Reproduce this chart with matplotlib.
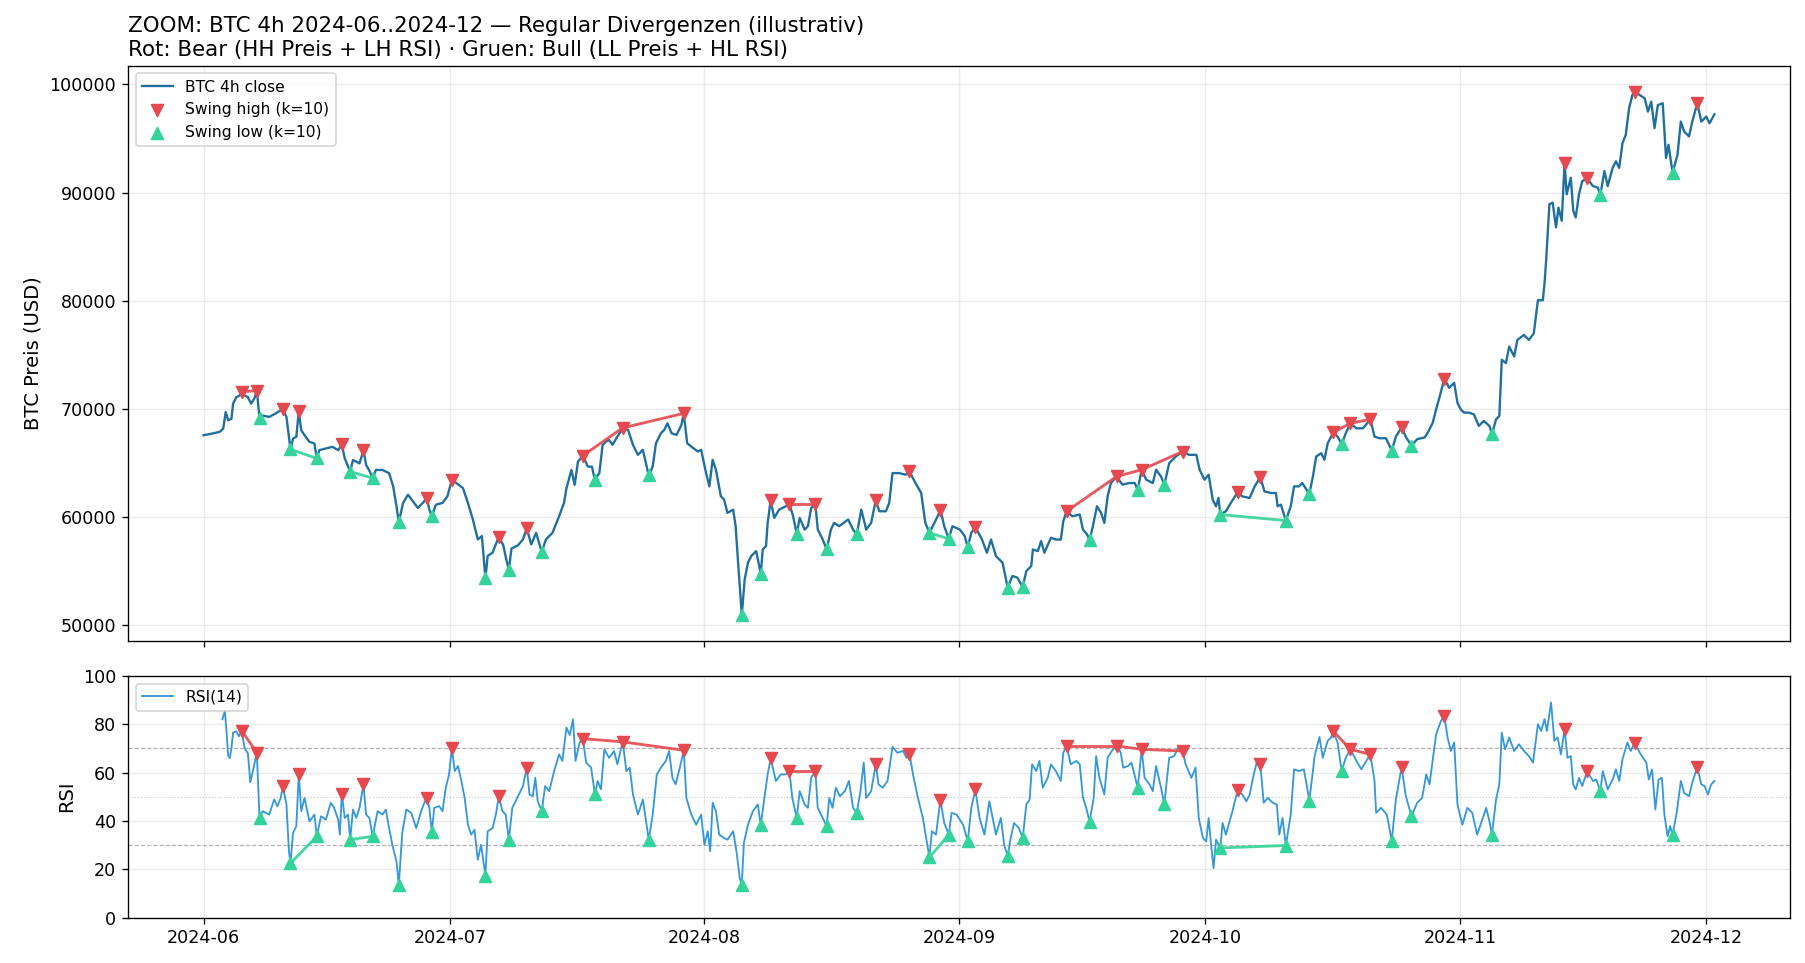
import numpy as np
import pandas as pd
import matplotlib
matplotlib.use("Agg")
import matplotlib.pyplot as plt
import matplotlib.dates as mdates

START = pd.Timestamp("2024-06-01")

# BTC 4h close (days since 2024-06-01, USD)
price_day = [0, 1.1, 2, 2.4, 2.7, 3, 3.4, 3.6, 4, 4.4, 5, 5.4, 5.8, 6.2, 7.2, 8, 8.8, 10.1, 10.9, 11.3,
             11.9, 12.3, 12.9, 13.5, 14.1, 14.9, 15.7, 16.4, 17.2, 18.2, 19, 19.8, 20.2, 21, 21.8, 22.6,
             23.1, 23.5, 24.3, 24.9, 25.5, 26.1, 26.7, 27.5, 28.3, 29.1, 29.7, 30.8, 31.6, 32.2, 32.8,
             33.4, 33.9, 34.6, 35.2, 36.5, 36.9, 37.5, 38.3, 38.9, 39.9, 40.5, 41.7, 42.5, 43.3, 43.9,
             44.2, 44.8, 45.2, 45.6, 46.8, 47.3, 48.2, 48.6, 49, 49.4, 49.8, 50.4, 51.7, 52.3, 52.9, 53.5,
             54.7, 55.1, 55.7, 56.1, 56.5, 57, 57.6, 58.2, 58.9, 59.4, 60.2, 60.6, 61.2, 61.6, 62, 62.4,
             63, 63.4, 63.8, 64.5, 64.8, 65.1, 65.9, 66.3, 66.7, 67.3, 68.1, 68.5, 68.7, 69.5, 70.1, 70.9,
             71.8, 72.6, 73.2, 73.6, 74, 74.8, 75.4, 76.4, 76.8, 77.4, 78.5, 79.1, 80.1, 80.7, 81.3, 82.3,
             83.1, 83.5, 83.9, 84.7, 85.5, 86.7, 87.4, 87.9, 88.8, 89.4, 90.2, 91.2, 92.1, 92.7, 93.5,
             94.8, 95.4, 95.9, 96.5, 97.3, 98.5, 99.1, 100.2, 100.8, 101, 101.6, 102, 102.4, 103.2, 103.8,
             104.4, 104.7, 105.8, 106.7, 107.1, 107.6, 108.3, 108.8, 109.3, 109.7, 110.1, 110.5, 111.9,
             112.7, 113.4, 114.8, 115.6, 116, 116.6, 117.6, 118.4, 120, 120.9, 121.3, 121.9, 122.4, 122.9,
             123.3, 123.6, 124.5, 125.1, 126.5, 127.4, 128, 129.2, 130, 130.6, 130.8, 131.2, 132.4, 132.8,
             133.4, 133.8, 135.1, 135.5, 136.1, 136.5, 136.9, 138.1, 139.1, 140.4, 141.2, 142.6, 143.2,
             144, 145.2, 146.4, 147.8, 148.7, 149.1, 149.7, 150.1, 150.5, 151.7, 152.3, 152.7, 153.1,
             153.5, 154.1, 154.7, 155.3, 155.9, 156.6, 157.4, 157.8, 158.1, 158.6, 159, 159.6, 160, 160.8,
             161.4, 162, 162.5, 163.1, 163.3, 163.5, 163.9, 164.3, 164.7, 165, 165.4, 166, 166.5, 166.8,
             167.1, 167.5, 167.9, 169.2, 169.8, 170.6, 171, 171.6, 172, 172.4, 172.8, 173.2, 173.6, 174,
             174.9, 175.5, 175.9, 176.3, 176.7, 177.1, 177.7, 178.1, 178.4, 179.5, 179.9, 180.3, 180.9,
             181.3, 182.4, 183, 183.4, 184]
price_usd = [67580, 67740, 67900, 68200, 69720, 68960, 69100, 70500, 71100, 71250, 71250, 71100, 70500,
             71000, 69400, 69270, 69600, 69270, 67280, 67430, 68040, 67580, 66970, 66820, 66200, 66360,
             66510, 66200, 65440, 65290, 64980, 64830, 64300, 64370, 64370, 64070, 62840, 61010, 61320,
             62080, 61470, 60860, 61320, 60700, 61160, 61320, 61930, 63150, 62690, 61320, 59790, 57950,
             58260, 56420, 56730, 57410, 56000, 57100, 57410, 57950, 57490, 58560, 57950, 58560, 60090,
             61320, 62690, 64370, 63000, 65140, 64680, 64680, 64070, 66670, 67000, 67130, 66690, 67450,
             68070, 66690, 65770, 66230, 64690, 66840, 67760, 68070, 68680, 67760, 67610, 68530, 66840,
             66530, 66070, 66230, 64080, 62850, 65310, 64390, 61930, 61630, 60400, 60700, 59170, 55800,
             54260, 55800, 56410, 56870, 57020, 57330, 59480, 59940, 60710, 61010, 60090, 59940, 58860,
             59170, 60860, 58860, 57940, 58860, 59480, 59170, 59790, 58860, 60710, 58860, 59480, 60550,
             60550, 61320, 64080, 64080, 63930, 63160, 62240, 59480, 59170, 60090, 59170, 59170, 58860,
             58250, 58560, 57940, 56720, 57940, 56410, 55800, 54570, 54420, 55030, 55490, 57020, 56870,
             57790, 56720, 58100, 57940, 57940, 59630, 60090, 60250, 58860, 58410, 59170, 61010, 60400,
             59480, 61930, 63160, 63010, 63160, 63160, 63470, 63160, 64390, 63770, 65000, 65610, 65770,
             65770, 64390, 63470, 63930, 61630, 61010, 61780, 60550, 61320, 61930, 61780, 62850, 62390,
             62240, 62240, 61010, 61170, 61010, 62850, 62850, 63160, 63770, 65610, 65920, 65310, 66840,
             67450, 67760, 68220, 68220, 67450, 67300, 67300, 67450, 67450, 67220, 67370, 67830, 68750,
             69970, 71040, 71960, 72420, 70580, 69970, 69670, 69670, 69510, 68440, 68900, 68440, 69050,
             69360, 74560, 74250, 75780, 74860, 76390, 76850, 76390, 77000, 80060, 80060, 81590, 83730,
             88930, 89080, 86790, 88620, 87400, 89850, 91380, 88320, 87710, 89850, 91070, 90610, 90460,
             92000, 90610, 92290, 92900, 92290, 94590, 95350, 97800, 99020, 99020, 98720, 97490, 98410,
             95960, 98100, 98260, 93210, 94430, 93520, 96570, 95660, 95200, 96570, 96570, 97030, 96420,
             97250]

# RSI(14) on the 4h closes
rsi_day = [2.3, 2.6, 2.8, 3, 3.2, 3.4, 3.6, 4, 4.3, 5, 5.4, 5.7, 6.1, 7.2, 8, 8.6, 9, 9.4, 10.1, 10.4,
           10.9, 11.3, 11.9, 12.3, 12.9, 13.5, 14.3, 14.9, 15.5, 15.9, 16.4, 16.6, 17.2, 17.6, 18.2, 18.6,
           19, 19.8, 20.2, 21.2, 21.8, 22.2, 22.6, 23, 23.5, 24.2, 24.7, 25.3, 25.9, 26.5, 26.9, 27.5,
           28.1, 28.7, 29.1, 29.5, 29.9, 30.6, 31, 31.4, 31.8, 32.2, 32.6, 33, 33.4, 33.8, 34.6, 35.2,
           35.6, 36.4, 36.8, 37.6, 38.1, 38.9, 39.7, 40.1, 40.4, 40.7, 41.6, 42.1, 42.7, 43.3, 43.7, 44.2,
           44.6, 45, 45.3, 45.8, 46.6, 47.2, 48, 48.4, 48.8, 49.4, 50, 50.4, 51.5, 51.9, 52.3, 52.9, 53.5,
           54.7, 55.2, 55.7, 56.3, 56.7, 57.1, 57.5, 58, 58.8, 59.4, 60, 60.6, 61, 61.4, 61.7, 62, 62.4,
           62.8, 63.4, 63.8, 64.5, 64.9, 65.3, 65.8, 66.3, 66.9, 67.5, 68.3, 68.7, 69.7, 70.3, 70.9, 71.7,
           72.6, 73.2, 73.6, 74, 74.8, 75.4, 76.2, 76.6, 77, 77.5, 78.1, 78.6, 79.1, 80, 80.4, 80.7, 81.3,
           82.2, 82.7, 83.3, 83.9, 84.5, 85.2, 85.6, 86.4, 87, 87.6, 88, 88.7, 89.2, 90.2, 91.1, 91.7,
           92.5, 93.5, 94.5, 95.1, 95.7, 96.1, 96.5, 97.1, 97.5, 98.3, 98.7, 99.3, 100.2, 100.6, 100.9,
           101.4, 101.8, 102.2, 102.8, 103.2, 103.8, 104.4, 104.7, 105.6, 106.3, 106.7, 107.1, 107.5,
           108.4, 108.7, 109.1, 109.7, 110.1, 110.6, 111.7, 112, 112.6, 113, 114.6, 115.2, 115.6, 116,
           116.6, 117.6, 118.2, 118.7, 119.6, 120.3, 120.8, 121.2, 121.7, 122.1, 122.4, 122.7, 123, 123.3,
           124.1, 124.5, 124.9, 125.3, 126.5, 127, 127.4, 127.8, 128.3, 129.1, 129.6, 130.2, 130.7, 131,
           131.4, 132.4, 132.8, 133.4, 134, 134.4, 135.1, 135.3, 135.9, 136.3, 136.9, 137.3, 138.1, 139.1,
           140.4, 141, 141.6, 142.6, 142.8, 143.4, 144.1, 145.2, 146.4, 147.8, 148.4, 148.9, 149.3, 149.7,
           150.1, 150.7, 151.5, 151.9, 152.3, 152.7, 153.3, 153.9, 154.5, 155.1, 155.8, 156.2, 156.6,
           157.4, 157.8, 158.1, 158.5, 159, 159.6, 160.2, 160.8, 161.4, 161.9, 162.5, 162.9, 163.3, 163.6,
           164.1, 164.5, 164.9, 165.3, 166.1, 166.5, 166.8, 167.1, 167.5, 167.9, 169.2, 169.6, 170.4, 171,
           171.6, 172, 172.4, 172.8, 173.4, 173.8, 174.9, 175.7, 176, 176.4, 176.8, 177.2, 177.6, 177.9,
           178.3, 178.6, 179.4, 179.9, 180.3, 180.9, 181.3, 182.4, 182.8, 183.2, 183.6, 184]
rsi_val = [82, 85.5, 77, 67, 66, 70, 76.5, 77, 75, 70, 68, 56, 62, 44, 42.6, 48.8, 46, 49.5, 46.8, 27.4,
           35, 37.8, 44, 49.5, 39.8, 42.6, 41.9, 40.5, 47.5, 45.4, 40.5, 34.3, 41.2, 42.6, 44.7, 41.2,
           45.4, 42.6, 41.2, 44, 42.6, 44.7, 37, 30, 23.2, 35, 44.7, 43.3, 37, 44, 47.5, 45.4, 45.4, 46.1,
           44, 53.7, 59.2, 60.6, 62.7, 56.5, 49.5, 38.4, 34.3, 36.3, 23.9, 30.1, 35.7, 37, 42.6, 44, 42.6,
           45.4, 48.8, 54.4, 50.9, 50.2, 57.8, 48.1, 54.4, 52.3, 60.6, 67.5, 64.8, 78.6, 75.5, 82, 64.8,
           72.4, 64.1, 62, 56.5, 53, 69.6, 66.1, 68.9, 63.4, 60.6, 62, 50.9, 42.6, 48.8, 42.6, 59.2, 62,
           64.8, 68.9, 57.8, 55.1, 62, 49.5, 42.6, 38.4, 42.6, 30.1, 35.7, 27.4, 47.5, 44, 34.3, 32.9,
           32.2, 35.7, 27.4, 16.3, 30.8, 38.4, 44, 46.8, 49.5, 59.2, 56.5, 59.2, 59.2, 49.5, 52.3, 46.8,
           45.4, 57.8, 45.4, 41.2, 49.5, 45.4, 53.7, 50.2, 52.3, 56.5, 45.4, 52.3, 64.1, 49.5, 52.3, 55.1,
           53.7, 56.5, 70.6, 68.2, 68.9, 66.1, 59.2, 49.5, 41.2, 32.9, 35.7, 34.3, 39.1, 43.3, 42.6, 38.4,
           45.4, 41.2, 34.3, 48.1, 41.2, 34.3, 41.2, 30.1, 32.9, 39.1, 37, 46.8, 48.8, 63.4, 60.6, 64.8,
           53.7, 57.8, 63.4, 60.6, 56.5, 68.2, 63.4, 64.8, 63.4, 49.5, 45.4, 49.5, 66.8, 57.8, 50.9, 66.1,
           68.9, 68.2, 62, 62.7, 64.1, 57.8, 55.1, 52.3, 62.7, 53.7, 66.1, 66.8, 70.3, 63.4, 57.8, 62,
           41.2, 32.9, 31.5, 41.2, 30.1, 20.4, 32.2, 39.1, 34.3, 39.1, 44, 50.9, 48.1, 50.9, 57.8, 64.8,
           47.5, 49.5, 47.5, 46.8, 34.3, 41.2, 42.6, 61.3, 60.6, 61.3, 53.7, 60.6, 66.8, 74.7, 66.1, 73.1,
           74.5, 72.4, 66.1, 64.8, 61.3, 64.8, 56.5, 43.3, 45.4, 42.6, 48.8, 50.5, 47.5, 49.5, 59.2, 55.1,
           65.5, 75.8, 81.4, 74.5, 68.9, 72.4, 46.8, 38.4, 45.4, 43.3, 34.3, 41.2, 45.4, 39.8, 48.8, 55.1,
           76.5, 69.6, 74.5, 68.9, 71.7, 68.9, 66.8, 64.1, 80, 77.2, 82.1, 77.2, 89, 73.1, 74.5, 67.5,
           66.1, 66.8, 55.1, 53, 57.8, 54.4, 56.5, 57.1, 60.6, 53, 57.1, 61.3, 56.5, 65.5, 72.4, 68.9,
           68.2, 64.1, 57.1, 61.3, 44.7, 57.1, 57.8, 42.6, 33.6, 37.8, 43.3, 56.5, 51.6, 50.2, 55.8, 55.1,
           54.4, 50.9, 55.1, 56.5]

# swing highs / lows (k=10): day, close, RSI at that bar
sh_day = [4.67, 6.49, 9.66, 11.6, 16.84, 19.48, 27.19, 30.24, 35.96, 39.37, 46.19, 51.04, 58.48, 69.06,
          71.35, 74.51, 81.86, 85.97, 89.74, 93.99, 105.1, 111.2, 114.25, 119.24, 125.93, 128.7, 137.6,
          139.65, 142.1, 145.9, 151.1, 165.75, 168.5, 174.3, 181.9]
sh_price = [71600, 71700, 70000, 69790, 66730, 66200, 61780, 63460, 58200, 58990, 65690, 68260, 69600,
            61560, 61230, 61230, 61560, 64230, 60700, 59080, 60550, 63770, 64390, 66070, 62300, 63710,
            67850, 68680, 69050, 68310, 72820, 92750, 91320, 99330, 98260]
sh_rsi = [77.2, 68.2, 54.4, 59.2, 51.2, 55.1, 49.5, 70, 50.2, 62, 74, 72.7, 69.2, 65.9, 60.6, 60.6,
          63.4, 67.8, 48.8, 53, 71, 71, 69.6, 68.9, 52.6, 63.4, 77, 69.6, 67.5, 62.3, 83.5, 77.9, 60.6,
          72.4, 62.3]

sl_day = [6.82, 10.59, 13.8, 17.86, 20.6, 23.78, 27.8, 34.33, 37.18, 41.19, 47.65, 54.22, 65.55, 67.86,
          72.24, 75.89, 79.55, 88.4, 90.75, 93.06, 97.93, 99.76, 107.9, 113.76, 117.0, 123.82, 131.8,
          134.66, 138.6, 144.7, 147.1, 156.9, 170.1, 178.9]
sl_price = [69200, 66270, 65440, 64220, 63610, 59540, 60090, 54340, 55140, 56790, 63460, 63860, 50980,
            54790, 58470, 57020, 58410, 58560, 58000, 57240, 53500, 53560, 57880, 62550, 63000, 60250,
            59690, 62150, 66780, 66160, 66600, 67680, 89790, 91840]
sl_rsi = [41.2, 22.5, 33.6, 32.2, 33.6, 13.5, 35.3, 17.3, 32.2, 44, 51.2, 32.2, 13.5, 38.2, 41.2, 37.8,
          43.3, 24.9, 34.3, 31.5, 25.5, 32.9, 39.6, 53.7, 46.8, 28.8, 29.8, 48.4, 60.6, 31.8, 41.9, 34.3,
          52.3, 34.3]

# divergence pairs (indices into the swing lists)
bear_pairs = [(0, 1), (10, 11), (11, 12), (14, 15), (20, 21), (21, 22), (22, 23), (26, 27), (27, 28)]
bull_pairs = [(1, 2), (3, 4), (17, 18), (25, 26)]

C_PRICE = "#1f6f9f"
C_RSI = "#3498db"
C_BEAR = "#e5484d"
C_BULL = "#34d399"


def to_time(days):
    return START + pd.to_timedelta(np.asarray(days, dtype=float), unit="D")


# merge swing points into the traced series so markers sit on the line
p = pd.Series(price_usd + sh_price + sl_price, index=price_day + sh_day + sl_day).sort_index()
r = pd.Series(rsi_val + sh_rsi + sl_rsi, index=rsi_day + sh_day + sl_day).sort_index()

fig = plt.figure(figsize=(1805 / 120, 963 / 120), dpi=120)
ax1 = fig.add_axes([0.0709, 0.3344, 0.9208, 0.5975])
ax2 = fig.add_axes([0.0709, 0.0472, 0.9208, 0.2510], sharex=ax1)

# price panel
ax1.plot(to_time(p.index), p.values, color=C_PRICE, lw=1.4, label="BTC 4h close", zorder=2)
ax1.scatter(to_time(sh_day), sh_price, marker="v", s=50, color=C_BEAR, zorder=4, label="Swing high (k=10)")
ax1.scatter(to_time(sl_day), sl_price, marker="^", s=50, color=C_BULL, zorder=4, label="Swing low (k=10)")
for a, b in bear_pairs:
    ax1.plot(to_time([sh_day[a], sh_day[b]]), [sh_price[a], sh_price[b]], color=C_BEAR, lw=1.7, alpha=0.9, zorder=3)
for a, b in bull_pairs:
    ax1.plot(to_time([sl_day[a], sl_day[b]]), [sl_price[a], sl_price[b]], color=C_BULL, lw=1.7, alpha=0.9, zorder=3)
ax1.set_ylabel("BTC Preis (USD)", fontsize=11.7)
ax1.grid(True, alpha=0.25)
ax1.legend(loc="upper left", fontsize=9.3)
ax1.set_title("ZOOM: BTC 4h 2024-06..2024-12 \u2014 Regular Divergenzen (illustrativ)\n"
              "Rot: Bear (HH Preis + LH RSI) \u00b7 Gruen: Bull (LL Preis + HL RSI)",
              loc="left", fontsize=12.8)
ax1.tick_params(labelsize=10.5)
plt.setp(ax1.get_xticklabels(), visible=False)

# RSI panel
ax2.plot(to_time(r.index), r.values, color=C_RSI, lw=1.1, label="RSI(14)", zorder=2)
ax2.axhline(70, color="gray", ls="--", lw=0.7, alpha=0.6)
ax2.axhline(30, color="gray", ls="--", lw=0.7, alpha=0.6)
ax2.axhline(50, color="gray", ls=":", lw=0.7, alpha=0.4)
ax2.scatter(to_time(sh_day), sh_rsi, marker="v", s=50, color=C_BEAR, zorder=4)
ax2.scatter(to_time(sl_day), sl_rsi, marker="^", s=50, color=C_BULL, zorder=4)
for a, b in bear_pairs:
    ax2.plot(to_time([sh_day[a], sh_day[b]]), [sh_rsi[a], sh_rsi[b]], color=C_BEAR, lw=1.7, alpha=0.9, zorder=3)
for a, b in bull_pairs:
    ax2.plot(to_time([sl_day[a], sl_day[b]]), [sl_rsi[a], sl_rsi[b]], color=C_BULL, lw=1.7, alpha=0.9, zorder=3)
ax2.set_ylim(0, 100)
ax2.set_ylabel("RSI", fontsize=11.7)
ax2.grid(True, alpha=0.25)
ax2.legend(loc="upper left", fontsize=9.3)
ax2.tick_params(labelsize=10.5)
ax2.xaxis.set_major_locator(mdates.MonthLocator())
ax2.xaxis.set_major_formatter(mdates.DateFormatter("%Y-%m"))

fig.savefig("out.png", dpi=120)
